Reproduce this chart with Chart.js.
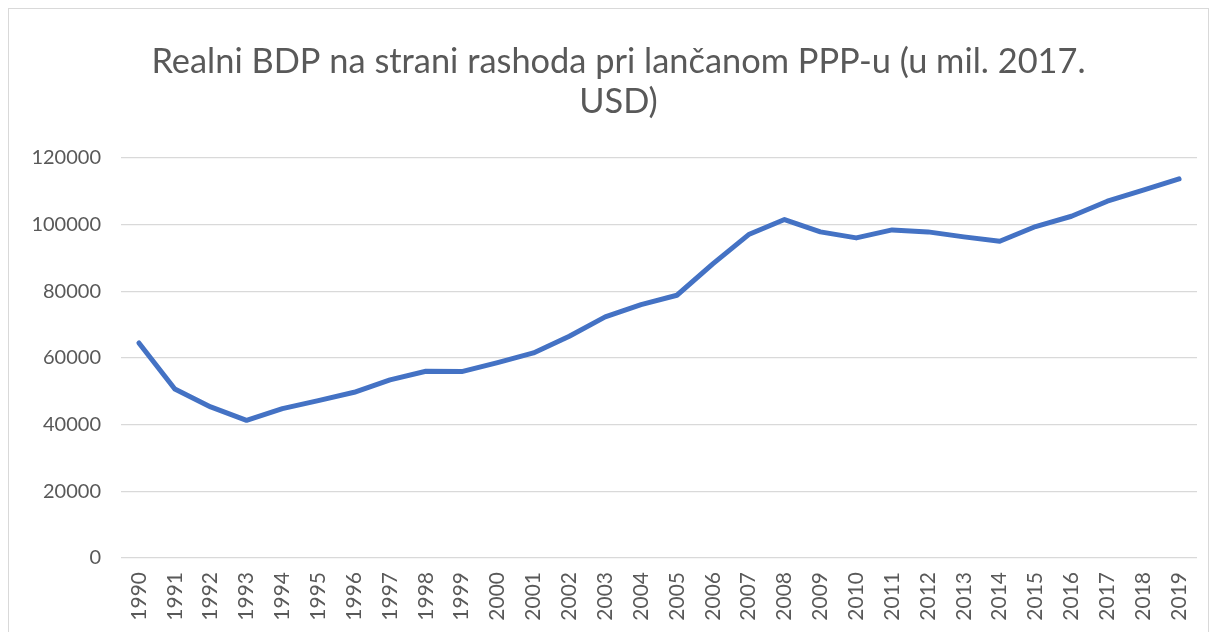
<!DOCTYPE html>
<html>
<head>
<meta charset="utf-8">
<script src="https://cdn.jsdelivr.net/npm/chart.js@4"></script>
<style>
  html, body { margin: 0; padding: 0; background: #fff; overflow: hidden; }
  #frame {
    position: absolute; left: 8px; top: 8px; width: 1201px; height: 700px;
    border: 1px solid #d9d9d9; box-sizing: border-box;
  }
  #gdpChart { position: absolute; left: 0; top: 0; }
</style>
</head>
<body>
<div id="frame"></div>
<canvas id="gdpChart" width="1215" height="632"></canvas>
<script>
const years = ['1990', '1991', '1992', '1993', '1994', '1995', '1996', '1997', '1998', '1999',
  '2000', '2001', '2002', '2003', '2004', '2005', '2006', '2007', '2008', '2009',
  '2010', '2011', '2012', '2013', '2014', '2015', '2016', '2017', '2018', '2019'];

const gdpValues = [64500, 50700, 45300, 41300, 44800, 47200, 49700, 53400, 56000, 55900,
  58600, 61500, 66500, 72300, 76000, 78800, 88200, 97000, 101500, 97800,
  96000, 98400, 97800, 96300, 95000, 99400, 102500, 107000, 110300, 113700];

const yTicks = [0, 20000, 40000, 60000, 80000, 100000, 120000];

const titleLines = ['Realni BDP na strani rashoda pri lančanom PPP-u (u mil. 2017.', 'USD)'];

const textColor = '#595959';
const fontFamily = 'Lato, "Open Sans", sans-serif';

const ctx = document.getElementById('gdpChart').getContext('2d');

// title in the original sits a bit right of the canvas centre
const nudgeTitle = {
  id: 'nudgeTitle',
  afterLayout(chart) {
    if (chart.titleBlock) chart.titleBlock.left = 40;
  }
};

new Chart(ctx, {
  type: 'line',
  data: {
    labels: years,
    datasets: [{
      data: gdpValues,
      borderColor: '#4472C4',
      borderWidth: 5,
      borderCapStyle: 'round',
      borderJoinStyle: 'round',
      pointRadius: 0,
      tension: 0,
      fill: false
    }]
  },
  options: {
    responsive: false,
    animation: false,
    layout: { padding: { left: 0, right: 18, top: 41, bottom: 0 } },
    plugins: {
      legend: { display: false },
      tooltip: { enabled: false },
      title: {
        display: true,
        text: titleLines,
        color: textColor,
        font: { family: fontFamily, size: 34.4, weight: 'normal', lineHeight: 1.19 },
        padding: { top: 0, bottom: 35 }
      }
    },
    scales: {
      x: {
        offset: true,
        grid: { display: false, drawTicks: false },
        border: { display: false },
        afterFit: s => { s.height = 74; s.paddingLeft = 0; s.paddingRight = 0; },
        ticks: {
          color: textColor,
          font: { family: fontFamily, size: 21 },
          maxRotation: 90,
          minRotation: 90,
          autoSkip: false,
          padding: 14
        }
      },
      y: {
        min: 0,
        max: 120000,
        afterBuildTicks: axis => { axis.ticks = yTicks.map(v => ({ value: v })); },
        afterFit: s => { s.width = 121; },
        grid: { color: '#d9d9d9', lineWidth: 1.3, drawTicks: false },
        border: { display: false },
        ticks: {
          color: textColor,
          font: { family: fontFamily, size: 20 },
          padding: 20,
          callback: v => String(v)
        }
      }
    }
  },
  plugins: [nudgeTitle]
});
</script>
</body>
</html>
